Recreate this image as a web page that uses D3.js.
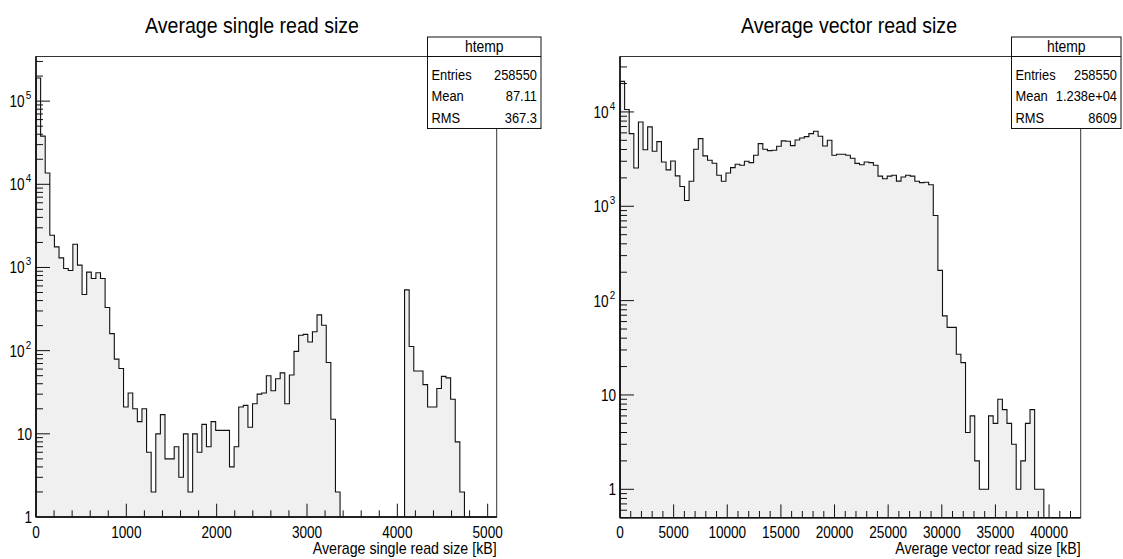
<!DOCTYPE html>
<html><head><meta charset="utf-8">
<script src="https://cdn.jsdelivr.net/npm/d3@7"></script>
<style>
body{margin:0;background:#fff}
svg{display:block;font-family:"Liberation Sans",Arial,Helvetica,sans-serif}
</style>
</head><body><svg id="c" width="1123" height="559"></svg>
<script>
// ---------- data ----------
const singleCounts = [190000,38000,13700,2440,1770,1306,973,920,1905,1067,474,879,738,863,738,330,
  160,79,61,21,31,20,14,20,6,2,10,17,5,5,7,3,10,2,10,6,13,7,14,11,11,11,4,7,21,22,
  12,23,30,31,50,33,46,54,23,51,98,153,157,127,169,269,202,72,15,2,
  0,0,0,0,0,0,0,0,0,0,0,0,0,0,
  538,112,57,57,39,21,21,35,49,47,26,8,2,
  0,0,0,0,0,0,0];
const vectorCounts = [21100,10600,5890,2550,7830,3980,6940,3830,4850,2950,2430,3020,2100,1620,1150,1840,
  4020,5210,3420,3080,2860,2130,1840,2250,2570,2790,2720,3000,2900,3470,4620,4020,3890,3920,4330,
  4930,4890,4390,5050,5300,5480,5890,6240,5520,4360,5010,3470,3560,3560,3470,3230,2850,
  2760,2950,2900,2720,2090,1960,2090,2130,1850,2040,2130,2090,1840,1780,1800,1690,
  800,209,69,52,52,27,22,4,6,2,1,1,6,5,9,7,5,3,1,2,5,7,1,1,
  0,0,0,0,0,0,0,0];
const singleXRange = [0, 5100];
const vectorXRange = [0, 42950];
const singleYRange = [1, 3.44e5];
const vectorYRange = [0.5, 3.87e4];
const singleXTicks = [0,1000,2000,3000,4000,5000];
const vectorXTicks = [0,5000,10000,15000,20000,25000,30000,35000,40000];
const singleXMinorStep = 200;
const vectorXMinorStep = 1000;
const singleYTicks = [1,10,100,1000,10000,100000];
const vectorYTicks = [1,10,100,1000,10000];
const titles = ["Average single read size","Average vector read size"];
const xTitles = ["Average single read size [kB]","Average vector read size [kB]"];
const statName = "htemp";
const statLabels = ["Entries","Mean","RMS"];
const singleStats = ["258550","87.11","367.3"];
const vectorStats = ["258550","1.238e+04","8609"];

// ---------- layout ----------
const svg = d3.select("#c");
svg.append("rect").attr("width",1123).attr("height",559).attr("fill","#fff");

// text drawn with a horizontal squeeze (narrow Helvetica look)
function txt(g, x, y, s, size, anchor, f){
  return g.append("text")
    .attr("transform", `translate(${x},${y}) scale(${f},1)`)
    .attr("x",0).attr("y",0)
    .attr("text-anchor", anchor)
    .attr("font-size", size).attr("fill","#000").text(s);
}

const panels = [
  {counts:singleCounts, xr:singleXRange, yr:singleYRange, xt:singleXTicks, xm:singleXMinorStep, yt:singleYTicks,
   title:titles[0], xtitle:xTitles[0], stats:singleStats,
   L:36, R:496.7, T:56.5, B:517, titleX:252, box:{x:427.5,w:113.5}},
  {counts:vectorCounts, xr:vectorXRange, yr:vectorYRange, xt:vectorXTicks, xm:vectorXMinorStep, yt:vectorYTicks,
   title:titles[1], xtitle:xTitles[1], stats:vectorStats,
   L:620, R:1080.7, T:56.5, B:517.7, titleX:849, box:{x:1011.5,w:109.5}}
];

panels.forEach(p => {
  const g = svg.append("g");
  const x = d3.scaleLinear().domain(p.xr).range([p.L,p.R]);
  const y = d3.scaleLog().domain(p.yr).range([p.B,p.T]).clamp(true);
  const n = p.counts.length;
  const w = (p.xr[1]-p.xr[0])/n;

  // histogram path
  const path = d3.path();
  path.moveTo(x(p.xr[0]), p.B);
  p.counts.forEach((v,i) => {
    const yy = v>0 ? y(v) : p.B;
    path.lineTo(x(p.xr[0]+i*w), yy);
    path.lineTo(x(p.xr[0]+(i+1)*w), yy);
  });
  path.lineTo(x(p.xr[1]), p.B);
  path.closePath();
  g.append("path").attr("d", path.toString())
    .attr("fill","#f0f0f0").attr("stroke","#111").attr("stroke-width",1.1)
    .attr("stroke-linejoin","miter");

  // frame
  g.append("rect").attr("x",p.L).attr("y",p.T).attr("width",p.R-p.L).attr("height",p.B-p.T)
    .attr("fill","none").attr("stroke","#333").attr("stroke-width",1);
  g.append("line").attr("x1",p.L).attr("x2",p.R).attr("y1",p.B).attr("y2",p.B)
    .attr("stroke","#111").attr("stroke-width",1.6);
  g.append("line").attr("x1",p.L).attr("x2",p.L).attr("y1",p.T).attr("y2",p.B)
    .attr("stroke","#111").attr("stroke-width",1.6);

  // x ticks
  const minors = d3.range(p.xr[0], p.xr[1], p.xm).filter(v => v>p.xr[0] && v<p.xr[1]-1);
  minors.forEach(v => {
    const major = p.xt.includes(v);
    g.append("line").attr("x1",x(v)).attr("x2",x(v)).attr("y1",p.B).attr("y2",p.B-(major?13.3:6.7))
      .attr("stroke","#111").attr("stroke-width",1);
  });
  p.xt.forEach(v => txt(g, x(v), 537.5, String(v), 16, "middle", 0.85));

  // y ticks
  const lo = Math.floor(Math.log10(p.yr[0])), hi = Math.ceil(Math.log10(p.yr[1]));
  for (let e=lo; e<=hi; e++){
    for (let k=1; k<=9; k++){
      const v = k*Math.pow(10,e);
      if (v <= p.yr[0]*1.0001 || v > p.yr[1]) continue;
      const yy = y(v);
      g.append("line").attr("x1",p.L).attr("x2",p.L+(k===1?14:7)).attr("y1",yy).attr("y2",yy)
        .attr("stroke","#111").attr("stroke-width",1);
    }
  }
  p.yt.forEach(v => {
    const e = Math.round(Math.log10(v));
    const yy = y(v);
    if (e <= 1) {
      txt(g, p.L-4, yy+6, e===0?"1":"10", 16, "end", 0.85);
    } else {
      txt(g, p.L-10.3, yy-2, String(e), 11, "start", 0.9);
      txt(g, p.L-11.5, yy+6, "10", 16, "end", 0.85);
    }
  });

  // titles
  txt(g, p.titleX, 33, p.title, 22, "middle", 0.89);
  txt(g, p.R, 553.5, p.xtitle, 16, "end", 0.89);

  // stats box
  const bx = p.box.x, bw = p.box.w, by = 37, bh = 91.5;
  g.append("rect").attr("x",bx).attr("y",by).attr("width",bw).attr("height",bh)
    .attr("fill","#fff").attr("stroke","#111").attr("stroke-width",1);
  g.append("line").attr("x1",bx).attr("x2",bx+bw).attr("y1",56.5).attr("y2",56.5)
    .attr("stroke","#111").attr("stroke-width",1);
  txt(g, bx+bw/2, 52, statName, 16, "middle", 0.87);
  const rowsY = [79.5,101,122.5];
  statLabels.forEach((lab,i) => {
    txt(g, bx+4, rowsY[i], lab, 15, "start", 0.86);
    txt(g, bx+bw-4, rowsY[i], p.stats[i], 15, "end", 0.86);
  });
});
</script>
</body></html>
